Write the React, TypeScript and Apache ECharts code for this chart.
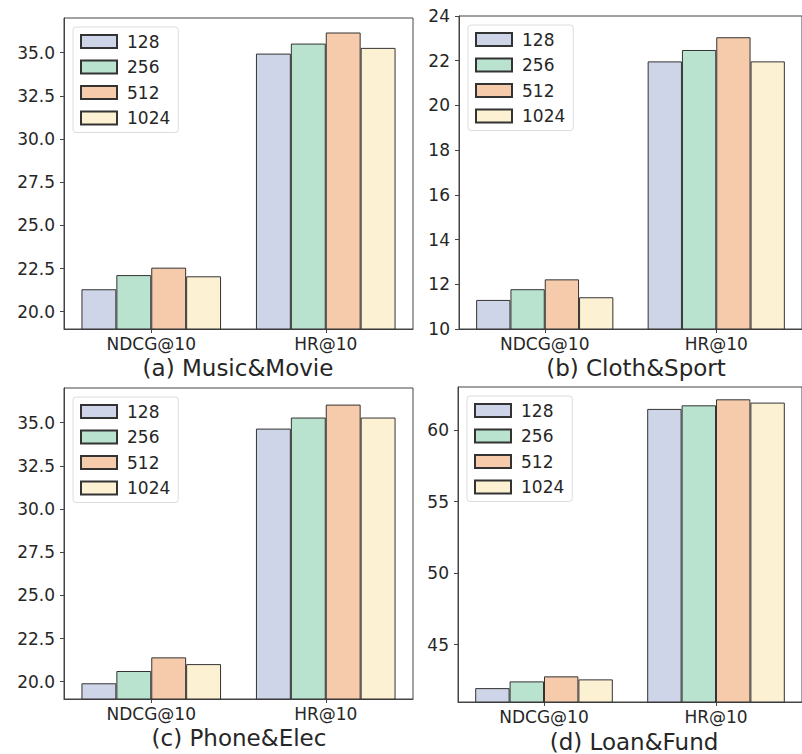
import React, { useEffect, useRef } from "react";
import * as echarts from "echarts";

const categories = ["NDCG@10", "HR@10"];
const sizes = ["128", "256", "512", "1024"];
const colors = ["#cfd5e8", "#b9e2cf", "#f6cbab", "#fcf2d3"];

const titles = ["(a) Music&Movie", "(b) Cloth&Sport", "(c) Phone&Elec", "(d) Loan&Fund"];

const musicNDCG = [21.3, 22.12, 22.55, 22.05];
const musicHR = [34.94, 35.52, 36.16, 35.27];
const clothNDCG = [11.3, 11.78, 12.22, 11.42];
const clothHR = [21.97, 22.48, 23.05, 21.97];
const phoneNDCG = [19.91, 20.62, 21.41, 21.02];
const phoneHR = [34.65, 35.29, 36.04, 35.29];
const loanNDCG = [41.97, 42.44, 42.79, 42.58];
const loanHR = [61.47, 61.72, 62.14, 61.91];

const ticksA = [20, 22.5, 25, 27.5, 30, 32.5, 35];
const ticksB = [10, 12, 14, 16, 18, 20, 22, 24];
const ticksC = [20, 22.5, 25, 27.5, 30, 32.5, 35];
const ticksD = [45, 50, 55, 60];

const panels = [
  { ndcg: musicNDCG, hr: musicHR, min: 19, max: 37, ticks: ticksA, dec: 1 },
  { ndcg: clothNDCG, hr: clothHR, min: 10, max: 24, ticks: ticksB, dec: 0 },
  { ndcg: phoneNDCG, hr: phoneHR, min: 19, max: 37, ticks: ticksC, dec: 1 },
  { ndcg: loanNDCG, hr: loanHR, min: 41, max: 63, ticks: ticksD, dec: 0 },
];

const grids = [
  { left: 64, top: 18, width: 349, height: 311 },
  { left: 459, top: 16, width: 353, height: 313 },
  { left: 64, top: 388, width: 349, height: 311 },
  { left: 458, top: 387, width: 354, height: 315 },
];

const titlePos = [
  { x: 238, y: 356 },
  { x: 636, y: 356 },
  { x: 239, y: 726 },
  { x: 634, y: 730 },
];

const FONT = "DejaVu Sans";
const AX = "#444";
const TXT = "#262626";

export default function App() {
  const ref = useRef<HTMLDivElement>(null);
  useEffect(() => {
    if (!ref.current) return;
    const chart = echarts.init(ref.current, null, { renderer: "svg" });
    const series: any[] = [];
    panels.forEach((p, i) => {
      sizes.forEach((s, j) => {
        series.push({
          type: "bar",
          name: s,
          xAxisIndex: i,
          yAxisIndex: i,
          data: [p.ndcg[j], p.hr[j]],
          barGap: "0%",
          barCategoryGap: "20%",
          itemStyle: { color: colors[j], borderColor: "#333", borderWidth: 1 },
        });
      });
    });
    chart.setOption({
      animation: false,
      backgroundColor: "#fff",
      title: titles.map((t, i) => ({
        text: t,
        left: titlePos[i].x,
        top: titlePos[i].y,
        textAlign: "center",
        padding: 0,
        textStyle: { fontFamily: FONT, fontSize: 23, fontWeight: "normal", color: TXT },
      })),
      grid: grids.map((g) => ({
        ...g,
        show: true,
        borderColor: AX,
        borderWidth: 1,
        backgroundColor: "transparent",
        containLabel: false,
      })),
      legend: grids.map((g) => ({
        data: sizes,
        orient: "vertical",
        left: g.left + 9,
        top: g.top + 9,
        icon: "rect",
        itemWidth: 36,
        itemHeight: 13,
        itemGap: 8.5,
        padding: [6, 8, 6, 7],
        borderColor: "#dcdcdc",
        borderWidth: 1,
        borderRadius: 3,
        backgroundColor: "rgba(255,255,255,0.8)",
        selectedMode: false,
        textStyle: { fontFamily: FONT, fontSize: 17, color: TXT, padding: [0, 0, 0, 5], lineHeight: 17 },
      })),
      xAxis: grids.map((_, i) => ({
        type: "category",
        gridIndex: i,
        data: categories,
        axisLine: { show: true, lineStyle: { color: AX, width: 1 } },
        axisTick: { show: true, alignWithLabel: true, length: 4, lineStyle: { color: AX } },
        axisLabel: { fontFamily: FONT, fontSize: 17, color: TXT, margin: 6 },
        splitLine: { show: false },
      })),
      yAxis: panels.map((p, i) => ({
        type: "value",
        gridIndex: i,
        min: p.min,
        max: p.max,
        axisLine: { show: true, lineStyle: { color: AX, width: 1 } },
        axisTick: { show: true, length: 4, lineStyle: { color: AX }, customValues: p.ticks },
        axisLabel: {
          fontFamily: FONT,
          fontSize: 17,
          color: TXT,
          margin: 9,
          customValues: p.ticks,
          formatter: (v: number) => v.toFixed(p.dec),
        },
        splitLine: { show: false },
      })),
      series,
    });
    return () => chart.dispose();
  }, []);
  return (
    <div
      ref={ref}
      style={{ position: "absolute", left: 0, top: 0, width: 802, height: 754 }}
    />
  );
}
